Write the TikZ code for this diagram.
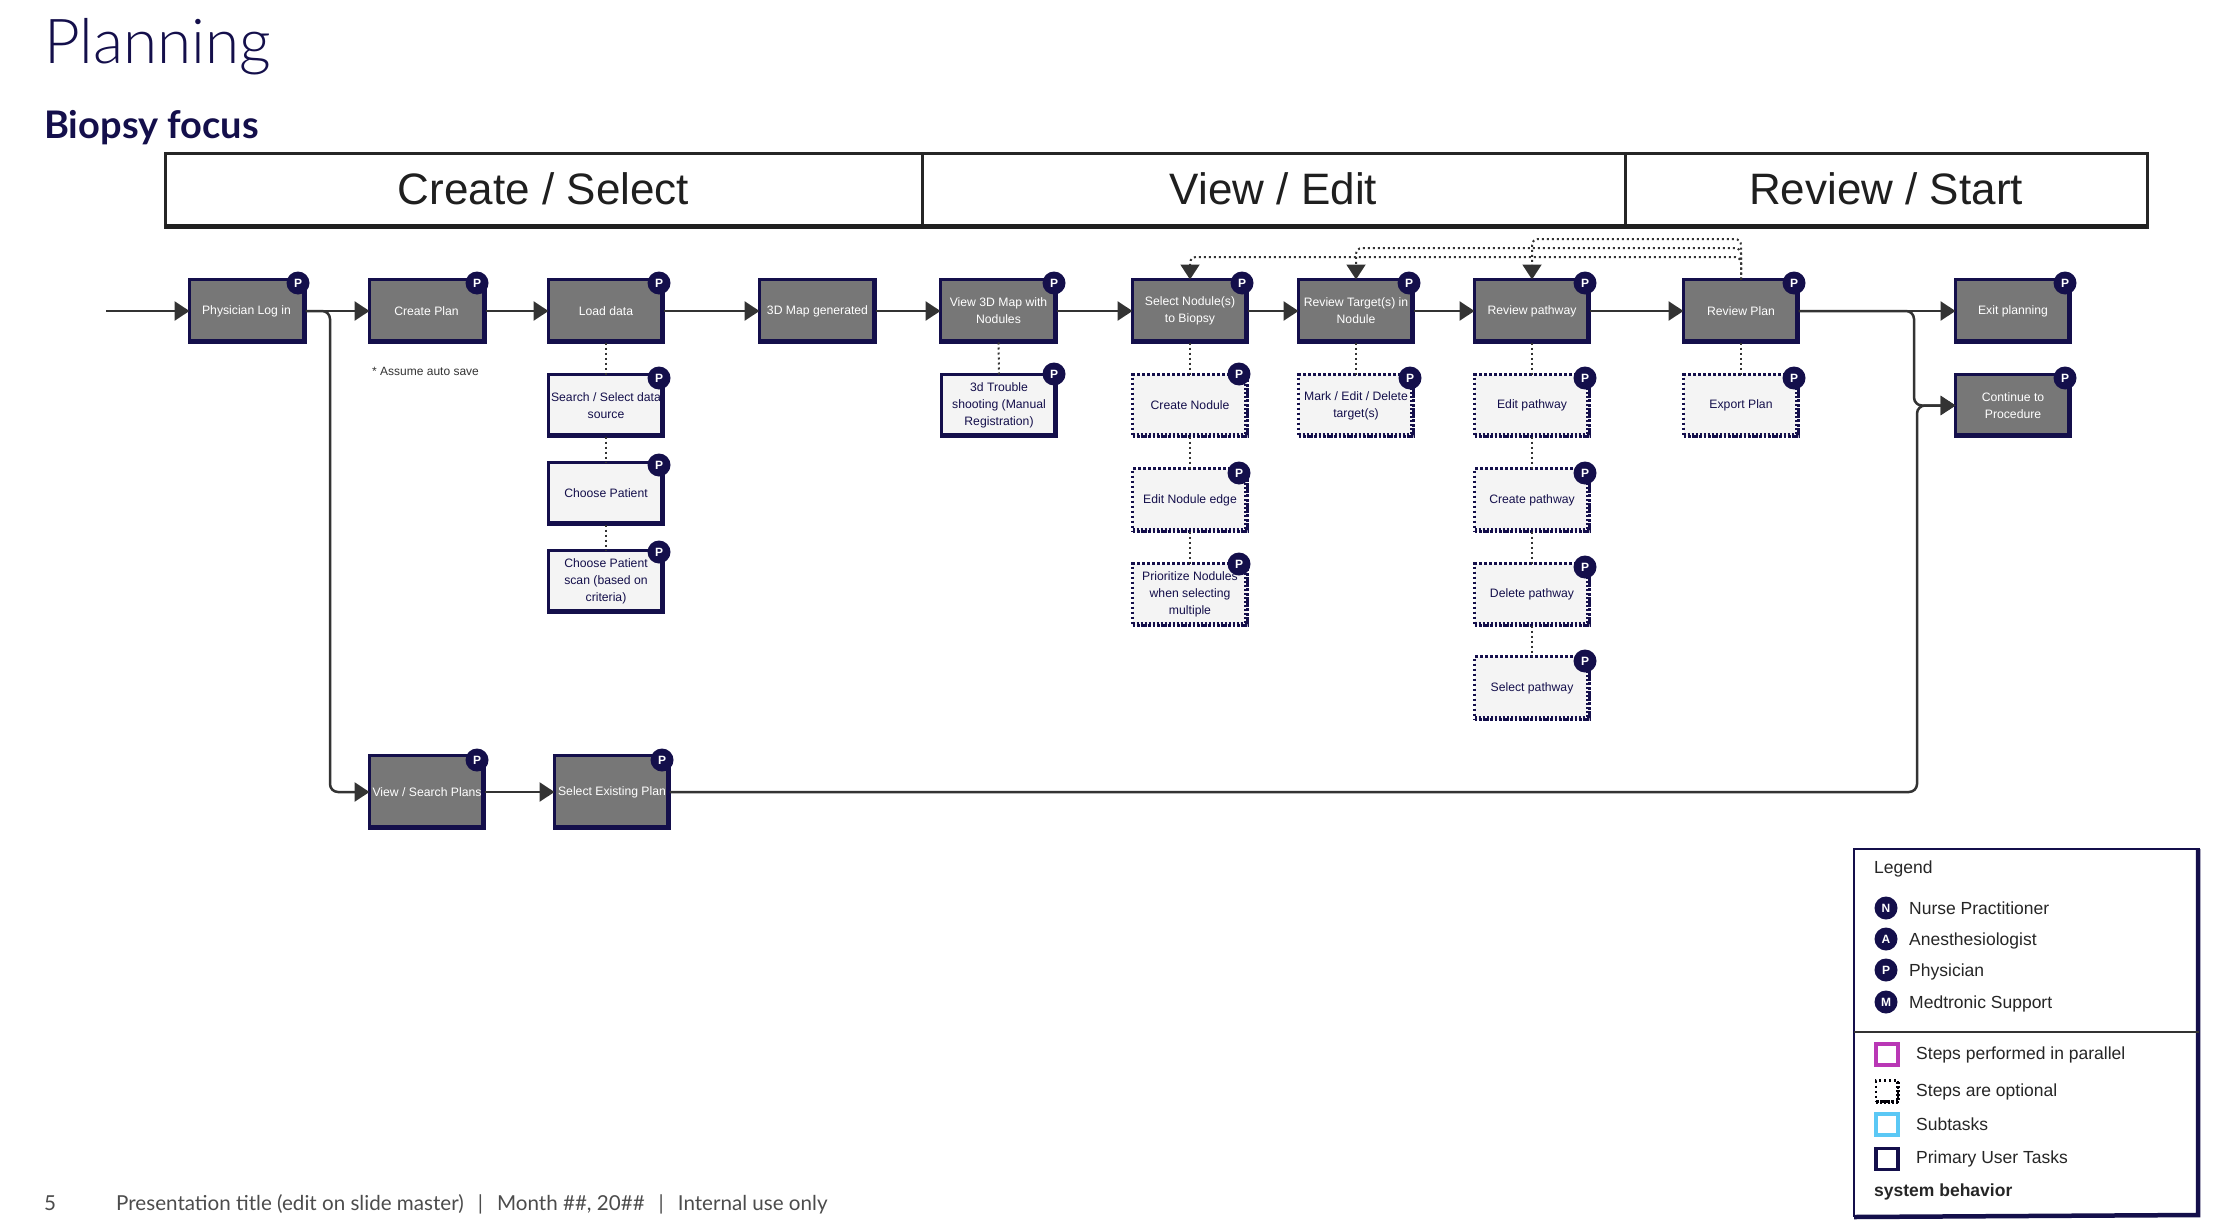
\documentclass[tikz,border=0pt]{standalone}
\usepackage{fontspec}
\setmainfont{Liberation Sans}
\newfontfamily\lightfont{Lato Light}
\newfontfamily\brandfont{Lato}
\usetikzlibrary{arrows.meta,calc}
\definecolor{navy}{HTML}{140F4B}
\definecolor{graybox}{HTML}{777777}
\definecolor{lightbox}{HTML}{F4F4F4}
\definecolor{linec}{HTML}{333333}
\definecolor{purplec}{HTML}{B937B5}
\definecolor{bluec}{HTML}{5BC8F5}
\tikzset{
  boxbase/.style={inner sep=0pt,outer sep=0pt,align=center,font=\fontsize{12.2}{17}\selectfont},
  primary/.style={boxbase,fill=graybox,draw=navy,line width=3pt,text=white},
  subtask/.style={boxbase,fill=lightbox,draw=navy,line width=3pt,text=navy},
  optional/.style={boxbase,fill=lightbox,draw=navy,line width=2.5pt,dash pattern=on 2.5pt off 2.5pt,text=navy},
  primary heavy/.style={draw=navy,line width=5pt},
  subtask heavy/.style={draw=navy,line width=5pt},
  optional heavy/.style={draw=navy,line width=5pt,dash pattern=on 2pt off 2pt},
  badge/.style={circle,fill=navy,text=white,inner sep=0pt,outer sep=0pt,minimum size=23pt,font=\fontsize{12}{12}\selectfont\bfseries},
  flow/.style={draw=linec,line width=2.5pt,-{Triangle[length=15pt,width=19pt]},rounded corners=8pt},
  link/.style={draw=linec,line width=2pt,dash pattern=on 2pt off 3pt},
  loopback/.style={link,-{Triangle[length=15pt,width=19pt]},rounded corners=6pt},
  stage/.style={inner sep=0pt,outer sep=0pt,draw=black!85,line width=3pt,fill=white,text=black!88,text height=30pt,text depth=2pt,font=\fontsize{44}{44}\selectfont},
  legtext/.style={anchor=west,inner sep=0pt,text=black!85,font=\fontsize{17.5}{19}\selectfont},
  legswatch/.style={inner sep=0pt,outer sep=0pt,minimum width=22pt,minimum height=21pt,fill=white,line width=3.5pt},
}
% name, style, x1, y1, x2, y2, text
\newcommand{\taskbox}[7]{%
  \pgfmathsetmacro{\tbw}{#5-#3-3}%
  \pgfmathsetmacro{\tbh}{#6-#4-3}%
  \pgfmathsetmacro{\tbx}{(#3+#5)/2}%
  \pgfmathsetmacro{\tby}{(#4+#6)/2}%
  \node[#2,minimum width=\tbw pt,minimum height=\tbh pt] (#1) at (\tbx,\tby) {#7};
  \draw[#2 heavy] ([shift={(0,-1)}]#1.south west) -- ([shift={(-1,-1)}]#1.south east) -- ([shift={(-1,0)}]#1.north east);
}
\newcommand{\roleP}[3]{\node[badge] (#1b) at (#2,#3) {P};}
\begin{document}
\begin{tikzpicture}[x=1pt,y=-1pt]
\useasboundingbox (0,0) rectangle (2218,1228);
\fill[white] (0,0) rectangle (2218,1228);

% titles
\node[anchor=base west,inner sep=0pt,text=navy,font=\fontsize{62}{62}\selectfont\lightfont] (title) at (44,63.5) {Planning};
\node[anchor=base west,inner sep=0pt,text=navy,font=\fontsize{38}{38}\selectfont\brandfont\bfseries] (subtitle) at (44,139) {Biopsy focus};

% stage header
\node[stage,minimum width=757pt,minimum height=74pt] (s1) at (543.5,190) {Create / Select};
\node[stage,minimum width=703pt,minimum height=74pt] (s2) at (1273.5,190) {View / Edit};
\node[stage,minimum width=522pt,minimum height=74pt] (s3) at (1886,190) {Review / Start};
\draw[draw=black!88,line width=5pt] ([yshift=1pt]s1.south west) -- ([yshift=1pt]s3.south east);

% main row
\taskbox{login}{primary}{188}{278}{307}{344}{Physician Log in\hspace*{2pt}}
\taskbox{create}{primary}{368}{278}{487}{344}{Create Plan\hspace*{2pt}}
\taskbox{load}{primary}{547}{278}{665}{344}{Load data}
\taskbox{map}{primary}{758}{278}{877}{344}{3D Map generated}
\taskbox{view}{primary}{939}{278}{1058}{344}{View 3D Map with\\Nodules}
\taskbox{nod}{primary}{1131}{278}{1249}{344}{Select Nodule(s)\\to Biopsy}
\taskbox{targ}{primary}{1297}{278}{1415}{344}{Review Target(s) in\\Nodule}
\taskbox{path}{primary}{1473}{278}{1591}{344}{Review pathway}
\taskbox{plan}{primary}{1682}{278}{1800}{344}{Review Plan}
\taskbox{exit}{primary}{1954}{278}{2072}{344}{Exit planning}
\taskbox{cont}{primary}{1954}{373}{2072}{438}{Continue to\\Procedure}

% sub tasks
\taskbox{search}{subtask}{547}{373}{665}{438}{Search / Select data\\source}
\taskbox{patient}{subtask}{547}{461}{665}{526}{Choose Patient}
\taskbox{scan}{subtask}{547}{549}{665}{614}{Choose Patient\\scan (based on\\criteria)}
\taskbox{trouble}{subtask}{940}{373}{1058}{438}{3d Trouble\\shooting (Manual\\Registration)}

% optional tasks
\taskbox{cnod}{optional}{1131}{373}{1249}{438}{Create Nodule}
\taskbox{enod}{optional}{1131}{467}{1249}{533}{Edit Nodule edge}
\taskbox{pnod}{optional}{1131}{562}{1249}{627}{Prioritize Nodules\\when selecting\\multiple}
\taskbox{mark}{optional}{1297}{373}{1415}{438}{Mark / Edit / Delete\\target(s)}
\taskbox{epath}{optional}{1473}{373}{1591}{438}{Edit pathway}
\taskbox{cpath}{optional}{1473}{467}{1591}{533}{Create pathway}
\taskbox{dpath}{optional}{1473}{562}{1591}{627}{Delete pathway}
\taskbox{spath}{optional}{1473}{655}{1591}{721}{Select pathway}
\taskbox{expo}{optional}{1682}{373}{1800}{438}{Export Plan}

% lower row
\taskbox{vsp}{primary}{368}{754}{486}{830}{View / Search Plans}
\taskbox{sep}{primary}{553}{754}{671}{830}{Select Existing Plan}

% note
\node[anchor=west,inner sep=0pt,text=black!80,font=\fontsize{12}{13}\selectfont] (note) at (372,371) {* Assume auto save};

% flow connectors
\coordinate (entry) at (106,311);
\draw[flow] (entry) -- (login.west);
\draw[flow] (login.east) -- (create.west);
\draw[flow] (create.east) -- (load.west);
\draw[flow] (load.east) -- (map.west);
\draw[flow] (map.east) -- (view.west);
\draw[flow] (view.east) -- (nod.west);
\draw[flow] (nod.east) -- (targ.west);
\draw[flow] (targ.east) -- (path.west);
\draw[flow] (path.east) -- (plan.west);
\draw[flow] (plan.east) -- (exit.west);
\coordinate (branchA) at (330,792);
\draw[flow] (login.east) -| (branchA) -- (vsp.west);
\draw[flow] (vsp.east) -- (sep.west);
\coordinate (branchB) at (1914,405.5);
\draw[flow] (plan.east) -| (branchB) -- (cont.west);
\coordinate (branchC) at (1917,405.5);
\draw[flow] (sep.east) -| (branchC) -- (cont.west);

% optional links
\draw[link] (load.south) -- (search.north);
\draw[link] (search.south) -- (patient.north);
\draw[link] (patient.south) -- (scan.north);
\draw[link] (view.south) -- (trouble.north);
\draw[link] (nod.south) -- (cnod.north);
\draw[link] (cnod.south) -- (enod.north);
\draw[link] (enod.south) -- (pnod.north);
\draw[link] (targ.south) -- (mark.north);
\draw[link] (path.south) -- (epath.north);
\draw[link] (epath.south) -- (cpath.north);
\draw[link] (cpath.south) -- (dpath.north);
\draw[link] (dpath.south) -- (spath.north);
\draw[link] (plan.south) -- (expo.north);

% loop backs
\coordinate (l1a) at (1741,257);
\coordinate (l2a) at (1741,248);
\coordinate (l3a) at (1741,239);
\draw[loopback] (plan.north) -- (l1a) -| (nod.north);
\draw[loopback] (plan.north) -- (l2a) -| (targ.north);
\draw[loopback] (plan.north) -- (l3a) -| (path.north);

% badges
\roleP{login}{298}{283}
\roleP{create}{477}{283}
\roleP{load}{659}{283}
\roleP{view}{1054}{283}
\roleP{nod}{1242}{283}
\roleP{targ}{1409}{283}
\roleP{path}{1585}{283}
\roleP{plan}{1794}{283}
\roleP{exit}{2065}{283}
\roleP{cont}{2065}{378}
\roleP{search}{659}{378}
\roleP{patient}{659}{465}
\roleP{scan}{659}{552}
\roleP{trouble}{1054}{374}
\roleP{cnod}{1239}{374}
\roleP{enod}{1239}{473}
\roleP{pnod}{1239}{564}
\roleP{mark}{1410}{378}
\roleP{epath}{1585}{378}
\roleP{cpath}{1585}{473}
\roleP{dpath}{1585}{567}
\roleP{spath}{1585}{661}
\roleP{expo}{1794}{378}
\roleP{vsp}{477}{760}
\roleP{sep}{662}{760}

% legend
\node[inner sep=0pt,outer sep=0pt,draw=navy,line width=2.5pt,minimum width=345pt,minimum height=367pt] (legend) at (2026.5,1032.5) {};
\draw[draw=navy,line width=4.5pt] ([shift={(-1,0)}]legend.north east) -- ([shift={(-1,-1)}]legend.south east) -- ([yshift=-1pt]legend.south west);
\draw[draw=linec,line width=2pt] (legend.west |- 0,1032) -- (legend.east |- 0,1032);
\node[legtext] (legtitle) at (1874,869) {Legend};
\node[badge,minimum size=23pt] (bn) at (1886,908) {N};
\node[badge,minimum size=23pt] (ba) at (1886,939) {A};
\node[badge,minimum size=23pt] (bp) at (1886,970) {P};
\node[badge,minimum size=23pt] (bm) at (1886,1002) {M};
\node[legtext] (ln) at (1909,908.5) {Nurse Practitioner};
\node[legtext] (la) at (1909,941) {Anesthesiologist};
\node[legtext] (lp) at (1909,972) {Physician};
\node[legtext] (lm) at (1909,1004) {Medtronic Support};
\node[legswatch,draw=purplec] (sw1) at (1887,1054.5) {};
\node[legswatch,draw=navy!10!black,dash pattern=on 2.5pt off 2.5pt,line width=2.5pt] (sw2) at (1887,1091) {};
\draw[draw=navy!10!black,line width=4pt,dash pattern=on 2pt off 2pt] (sw2.south west) -- (sw2.south east) -- (sw2.north east);
\node[legswatch,draw=bluec] (sw3) at (1887,1124.5) {};
\node[legswatch,draw=navy] (sw4) at (1887,1159) {};
\node[legtext] (t1) at (1916,1055) {Steps performed in parallel};
\node[legtext] (t2) at (1916,1092) {Steps are optional};
\node[legtext] (t3) at (1916,1124) {Subtasks};
\node[legtext] (t4) at (1916,1159) {Primary User Tasks};
\node[legtext,font=\fontsize{17.5}{19}\selectfont\bfseries] (t5) at (1874,1192) {system behavior};

% footer
\node[anchor=base west,inner sep=0pt,text=black!70,font=\fontsize{20.6}{22}\selectfont\brandfont] (page) at (44,1210) {5};
\node[anchor=base west,inner sep=0pt,text=black!70,font=\fontsize{20.6}{22}\selectfont\brandfont] (foot) at (116,1210) {Presentation title (edit on slide master)\hspace{14pt}|\hspace{14pt}Month \#\#, 20\#\#\hspace{14pt}|\hspace{14pt}Internal use only};
\end{tikzpicture}
\end{document}
